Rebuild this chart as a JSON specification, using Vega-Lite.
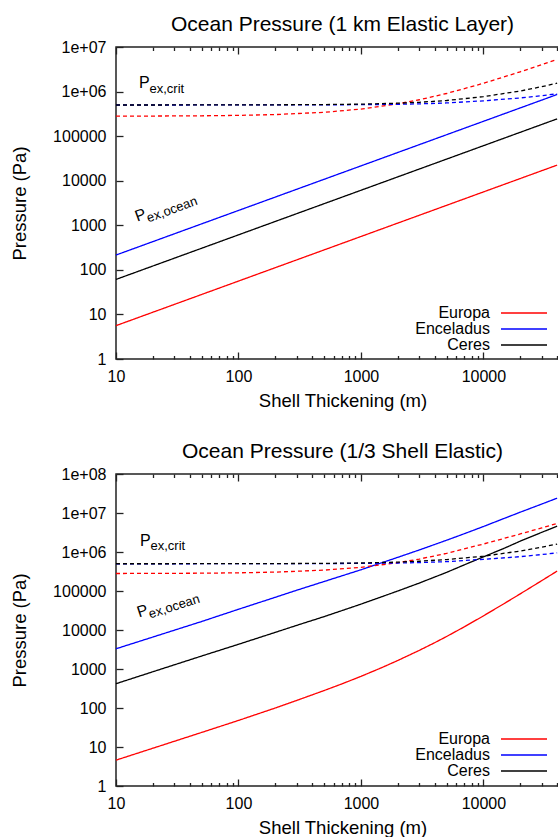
{
  "$schema": "https://vega.github.io/schema/vega-lite/v6.json",
  "padding": {"left": 9, "top": 13, "right": 0, "bottom": 0},
  "spacing": 29,
  "resolve": {"scale": {"color": "independent", "strokeDash": "independent"}},
  "config": {
    "font": "Liberation Sans",
    "view": {"stroke": "#222", "strokeWidth": 1.5},
    "axis": {"labelColor": "#000", "titleColor": "#000", "tickColor": "#222", "tickWidth": 1.3, "grid": false, "domain": false, "labelFontSize": 16, "titleFontSize": 18.5, "titleFontWeight": "normal", "labelFlush": false, "labelOverlap": false},
    "title": {"fontSize": 21, "fontWeight": "normal", "color": "#000", "offset": 4},
    "line": {"strokeWidth": 1.3}
  },
  "datasets": {
    "top": [
      {"planet":"Europa","kind":"ocean","x":10,"p":5.6},{"planet":"Europa","kind":"ocean","x":20,"p":11.2},{"planet":"Europa","kind":"ocean","x":50,"p":28},{"planet":"Europa","kind":"ocean","x":100,"p":56},{"planet":"Europa","kind":"ocean","x":200,"p":112},{"planet":"Europa","kind":"ocean","x":500,"p":280},{"planet":"Europa","kind":"ocean","x":1000,"p":560},{"planet":"Europa","kind":"ocean","x":2000,"p":1120},{"planet":"Europa","kind":"ocean","x":5000,"p":2800},{"planet":"Europa","kind":"ocean","x":10000,"p":5600},{"planet":"Europa","kind":"ocean","x":20000,"p":11200},{"planet":"Europa","kind":"ocean","x":40000,"p":22400},
      {"planet":"Enceladus","kind":"ocean","x":10,"p":215},{"planet":"Enceladus","kind":"ocean","x":20,"p":430},{"planet":"Enceladus","kind":"ocean","x":50,"p":1075},{"planet":"Enceladus","kind":"ocean","x":100,"p":2150},{"planet":"Enceladus","kind":"ocean","x":200,"p":4300},{"planet":"Enceladus","kind":"ocean","x":500,"p":10750},{"planet":"Enceladus","kind":"ocean","x":1000,"p":21500},{"planet":"Enceladus","kind":"ocean","x":2000,"p":43000},{"planet":"Enceladus","kind":"ocean","x":5000,"p":107500},{"planet":"Enceladus","kind":"ocean","x":10000,"p":215000},{"planet":"Enceladus","kind":"ocean","x":20000,"p":430000},{"planet":"Enceladus","kind":"ocean","x":40000,"p":860000},
      {"planet":"Ceres","kind":"ocean","x":10,"p":61},{"planet":"Ceres","kind":"ocean","x":20,"p":122},{"planet":"Ceres","kind":"ocean","x":50,"p":305},{"planet":"Ceres","kind":"ocean","x":100,"p":610},{"planet":"Ceres","kind":"ocean","x":200,"p":1220},{"planet":"Ceres","kind":"ocean","x":500,"p":3050},{"planet":"Ceres","kind":"ocean","x":1000,"p":6100},{"planet":"Ceres","kind":"ocean","x":2000,"p":12200},{"planet":"Ceres","kind":"ocean","x":5000,"p":30500},{"planet":"Ceres","kind":"ocean","x":10000,"p":61000},{"planet":"Ceres","kind":"ocean","x":20000,"p":122000},{"planet":"Ceres","kind":"ocean","x":40000,"p":244000},
      {"planet":"Europa","kind":"crit","x":10,"p":281000},{"planet":"Europa","kind":"crit","x":20,"p":282500},{"planet":"Europa","kind":"crit","x":50,"p":286000},{"planet":"Europa","kind":"crit","x":100,"p":292500},{"planet":"Europa","kind":"crit","x":200,"p":305000},{"planet":"Europa","kind":"crit","x":500,"p":342500},{"planet":"Europa","kind":"crit","x":1000,"p":405000},{"planet":"Europa","kind":"crit","x":2000,"p":530000},{"planet":"Europa","kind":"crit","x":3000,"p":655000},{"planet":"Europa","kind":"crit","x":5000,"p":905000},{"planet":"Europa","kind":"crit","x":10000,"p":1530000},{"planet":"Europa","kind":"crit","x":20000,"p":2780000},{"planet":"Europa","kind":"crit","x":30000,"p":4030000},{"planet":"Europa","kind":"crit","x":40000,"p":5280000},
      {"planet":"Enceladus","kind":"crit","x":10,"p":500000},{"planet":"Enceladus","kind":"crit","x":20,"p":500000},{"planet":"Enceladus","kind":"crit","x":50,"p":500500},{"planet":"Enceladus","kind":"crit","x":100,"p":501000},{"planet":"Enceladus","kind":"crit","x":200,"p":502000},{"planet":"Enceladus","kind":"crit","x":500,"p":504000},{"planet":"Enceladus","kind":"crit","x":1000,"p":508000},{"planet":"Enceladus","kind":"crit","x":2000,"p":518000},{"planet":"Enceladus","kind":"crit","x":3000,"p":530000},{"planet":"Enceladus","kind":"crit","x":5000,"p":555000},{"planet":"Enceladus","kind":"crit","x":10000,"p":620000},{"planet":"Enceladus","kind":"crit","x":20000,"p":720000},{"planet":"Enceladus","kind":"crit","x":30000,"p":810000},{"planet":"Enceladus","kind":"crit","x":40000,"p":890000},
      {"planet":"Ceres","kind":"crit","x":10,"p":500000},{"planet":"Ceres","kind":"crit","x":20,"p":500200},{"planet":"Ceres","kind":"crit","x":50,"p":500800},{"planet":"Ceres","kind":"crit","x":100,"p":502000},{"planet":"Ceres","kind":"crit","x":200,"p":504500},{"planet":"Ceres","kind":"crit","x":500,"p":511000},{"planet":"Ceres","kind":"crit","x":1000,"p":522000},{"planet":"Ceres","kind":"crit","x":2000,"p":548000},{"planet":"Ceres","kind":"crit","x":3000,"p":575000},{"planet":"Ceres","kind":"crit","x":5000,"p":630000},{"planet":"Ceres","kind":"crit","x":10000,"p":770000},{"planet":"Ceres","kind":"crit","x":20000,"p":1030000},{"planet":"Ceres","kind":"crit","x":30000,"p":1290000},{"planet":"Ceres","kind":"crit","x":40000,"p":1540000}
    ],
    "bottom": [
      {"planet":"Europa","kind":"ocean","x":10,"p":4.6},{"planet":"Europa","kind":"ocean","x":20,"p":9.3},{"planet":"Europa","kind":"ocean","x":50,"p":23.6},{"planet":"Europa","kind":"ocean","x":100,"p":48},{"planet":"Europa","kind":"ocean","x":200,"p":100},{"planet":"Europa","kind":"ocean","x":300,"p":157},{"planet":"Europa","kind":"ocean","x":500,"p":280},{"planet":"Europa","kind":"ocean","x":700,"p":416},{"planet":"Europa","kind":"ocean","x":1000,"p":647},{"planet":"Europa","kind":"ocean","x":1500,"p":1105},{"planet":"Europa","kind":"ocean","x":2000,"p":1653},{"planet":"Europa","kind":"ocean","x":3000,"p":3010},{"planet":"Europa","kind":"ocean","x":4000,"p":4720},{"planet":"Europa","kind":"ocean","x":5000,"p":6800},{"planet":"Europa","kind":"ocean","x":7000,"p":12100},{"planet":"Europa","kind":"ocean","x":10000,"p":23000},{"planet":"Europa","kind":"ocean","x":15000,"p":49000},{"planet":"Europa","kind":"ocean","x":20000,"p":84600},{"planet":"Europa","kind":"ocean","x":30000,"p":185000},{"planet":"Europa","kind":"ocean","x":40000,"p":324000},
      {"planet":"Enceladus","kind":"ocean","x":10,"p":3300},{"planet":"Enceladus","kind":"ocean","x":20,"p":6600},{"planet":"Enceladus","kind":"ocean","x":50,"p":16500},{"planet":"Enceladus","kind":"ocean","x":100,"p":34000},{"planet":"Enceladus","kind":"ocean","x":200,"p":69000},{"planet":"Enceladus","kind":"ocean","x":300,"p":105000},{"planet":"Enceladus","kind":"ocean","x":500,"p":175000},{"planet":"Enceladus","kind":"ocean","x":1000,"p":350000},{"planet":"Enceladus","kind":"ocean","x":2000,"p":730000},{"planet":"Enceladus","kind":"ocean","x":3000,"p":1130000},{"planet":"Enceladus","kind":"ocean","x":5000,"p":2000000},{"planet":"Enceladus","kind":"ocean","x":7000,"p":2950000},{"planet":"Enceladus","kind":"ocean","x":10000,"p":4500000},{"planet":"Enceladus","kind":"ocean","x":15000,"p":7400000},{"planet":"Enceladus","kind":"ocean","x":20000,"p":10500000},{"planet":"Enceladus","kind":"ocean","x":30000,"p":17000000},{"planet":"Enceladus","kind":"ocean","x":40000,"p":24000000},
      {"planet":"Ceres","kind":"ocean","x":10,"p":420},{"planet":"Ceres","kind":"ocean","x":20,"p":850},{"planet":"Ceres","kind":"ocean","x":50,"p":2150},{"planet":"Ceres","kind":"ocean","x":100,"p":4300},{"planet":"Ceres","kind":"ocean","x":200,"p":8700},{"planet":"Ceres","kind":"ocean","x":300,"p":13200},{"planet":"Ceres","kind":"ocean","x":500,"p":22000},{"planet":"Ceres","kind":"ocean","x":1000,"p":46000},{"planet":"Ceres","kind":"ocean","x":2000,"p":100000},{"planet":"Ceres","kind":"ocean","x":3000,"p":160000},{"planet":"Ceres","kind":"ocean","x":5000,"p":300000},{"planet":"Ceres","kind":"ocean","x":7000,"p":470000},{"planet":"Ceres","kind":"ocean","x":10000,"p":750000},{"planet":"Ceres","kind":"ocean","x":15000,"p":1270000},{"planet":"Ceres","kind":"ocean","x":20000,"p":1900000},{"planet":"Ceres","kind":"ocean","x":30000,"p":3200000},{"planet":"Ceres","kind":"ocean","x":40000,"p":4600000},
      {"planet":"Europa","kind":"crit","x":10,"p":281000},{"planet":"Europa","kind":"crit","x":20,"p":282500},{"planet":"Europa","kind":"crit","x":50,"p":286000},{"planet":"Europa","kind":"crit","x":100,"p":292500},{"planet":"Europa","kind":"crit","x":200,"p":305000},{"planet":"Europa","kind":"crit","x":500,"p":342500},{"planet":"Europa","kind":"crit","x":1000,"p":405000},{"planet":"Europa","kind":"crit","x":2000,"p":530000},{"planet":"Europa","kind":"crit","x":3000,"p":660000},{"planet":"Europa","kind":"crit","x":5000,"p":920000},{"planet":"Europa","kind":"crit","x":10000,"p":1600000},{"planet":"Europa","kind":"crit","x":20000,"p":2900000},{"planet":"Europa","kind":"crit","x":30000,"p":4150000},{"planet":"Europa","kind":"crit","x":40000,"p":5400000},
      {"planet":"Enceladus","kind":"crit","x":10,"p":500000},{"planet":"Enceladus","kind":"crit","x":20,"p":500000},{"planet":"Enceladus","kind":"crit","x":50,"p":500500},{"planet":"Enceladus","kind":"crit","x":100,"p":501000},{"planet":"Enceladus","kind":"crit","x":200,"p":502000},{"planet":"Enceladus","kind":"crit","x":500,"p":505000},{"planet":"Enceladus","kind":"crit","x":1000,"p":510000},{"planet":"Enceladus","kind":"crit","x":2000,"p":522000},{"planet":"Enceladus","kind":"crit","x":3000,"p":535000},{"planet":"Enceladus","kind":"crit","x":5000,"p":565000},{"planet":"Enceladus","kind":"crit","x":10000,"p":650000},{"planet":"Enceladus","kind":"crit","x":20000,"p":760000},{"planet":"Enceladus","kind":"crit","x":30000,"p":860000},{"planet":"Enceladus","kind":"crit","x":40000,"p":950000},
      {"planet":"Ceres","kind":"crit","x":10,"p":500000},{"planet":"Ceres","kind":"crit","x":20,"p":500200},{"planet":"Ceres","kind":"crit","x":50,"p":500800},{"planet":"Ceres","kind":"crit","x":100,"p":502000},{"planet":"Ceres","kind":"crit","x":200,"p":504500},{"planet":"Ceres","kind":"crit","x":500,"p":511000},{"planet":"Ceres","kind":"crit","x":1000,"p":523000},{"planet":"Ceres","kind":"crit","x":2000,"p":550000},{"planet":"Ceres","kind":"crit","x":3000,"p":580000},{"planet":"Ceres","kind":"crit","x":5000,"p":640000},{"planet":"Ceres","kind":"crit","x":10000,"p":780000},{"planet":"Ceres","kind":"crit","x":20000,"p":1060000},{"planet":"Ceres","kind":"crit","x":30000,"p":1330000},{"planet":"Ceres","kind":"crit","x":40000,"p":1600000}
    ]
  },
  "vconcat": [
    {
      "title": "Ocean Pressure (1 km Elastic Layer)",
      "width": 453,
      "height": 312,
      "resolve": {"axis": {"x": "independent", "y": "independent"}},
      "layer": [
        {
          "data": {"name": "top"},
          "mark": {"type": "line", "strokeWidth": 1.3},
          "encoding": {
            "x": {"field": "x", "type": "quantitative", "scale": {"type": "log", "domain": [10, 50000], "nice": false},
              "axis": {"orient": "bottom", "values": [10,20,30,40,50,60,70,80,90,100,200,300,400,500,600,700,800,900,1000,2000,3000,4000,5000,6000,7000,8000,9000,10000,20000,30000,40000],
                "labelExpr": "(datum.value == 10 || datum.value == 100 || datum.value == 1000 || datum.value == 10000) ? format(datum.value, 'd') : ''",
                "tickSize": {"condition": {"test": "datum.value == 10 || datum.value == 100 || datum.value == 1000 || datum.value == 10000", "value": -7}, "value": -3.5},
                "labelPadding": 16, "title": "Shell Thickening (m)", "titlePadding": 3.5}},
            "y": {"field": "p", "type": "quantitative", "scale": {"type": "log", "domain": [1, 10000000], "nice": false},
              "axis": {"orient": "left", "values": [1,10,100,1000,10000,100000,1000000,10000000],
                "labelExpr": "datum.value >= 1000000 ? '1e+0' + round(log(datum.value)/LN10) : format(datum.value, 'd')",
                "tickSize": -7, "labelPadding": 17, "title": "Pressure (Pa)", "titlePadding": 23}},
            "color": {"field": "planet", "type": "nominal", "scale": {"domain": ["Europa", "Enceladus", "Ceres"], "range": ["#ff0000", "#0000ff", "#000000"]},
              "legend": {"title": null, "orient": "none", "legendX": 400, "legendY": 258, "symbolType": "M-3.286,0H3.286", "symbolSize": 196, "symbolStrokeWidth": 1.3, "labelAlign": "right", "labelOffset": -42, "labelFontSize": 16, "labelColor": "#000", "rowPadding": -0.5, "padding": 0, "labelLimit": 300}},
            "strokeDash": {"field": "kind", "type": "nominal", "scale": {"domain": ["ocean", "crit"], "range": [[1, 0], [4, 3]]}, "legend": null}
          }
        },
        {
          "data": {"values": [{}]},
          "mark": {"type": "text", "text": "P", "fontSize": 16, "align": "left", "baseline": "alphabetic", "color": "#000"},
          "encoding": {
            "x": {"datum": 15.4, "type": "quantitative", "scale": {"type": "log", "domain": [10, 50000], "nice": false},
              "axis": {"orient": "top", "values": [10,20,30,40,50,60,70,80,90,100,200,300,400,500,600,700,800,900,1000,2000,3000,4000,5000,6000,7000,8000,9000,10000,20000,30000,40000],
                "labels": false, "title": null,
                "tickSize": {"condition": {"test": "datum.value == 10 || datum.value == 100 || datum.value == 1000 || datum.value == 10000", "value": -7}, "value": -3.5}}},
            "y": {"datum": 1200000, "type": "quantitative", "scale": {"type": "log", "domain": [1, 10000000], "nice": false}, "axis": null}
          }
        },
        {
          "data": {"values": [{}]},
          "mark": {"type": "text", "text": "ex,crit", "fontSize": 13, "align": "left", "baseline": "alphabetic", "dx": 10.5, "dy": 4.5, "color": "#000"},
          "encoding": {
            "x": {"datum": 15.4, "type": "quantitative", "scale": {"type": "log", "domain": [10, 50000], "nice": false}, "axis": null},
            "y": {"datum": 1200000, "type": "quantitative", "scale": {"type": "log", "domain": [1, 10000000], "nice": false}, "axis": null}
          }
        },
        {
          "data": {"values": [{}]},
          "mark": {"type": "text", "text": "P", "fontSize": 16, "align": "left", "baseline": "alphabetic", "angle": -20, "color": "#000"},
          "encoding": {
            "x": {"datum": 14.9, "type": "quantitative", "scale": {"type": "log", "domain": [10, 50000], "nice": false}, "axis": null},
            "y": {"datum": 1200, "type": "quantitative", "scale": {"type": "log", "domain": [1, 10000000], "nice": false}, "axis": null}
          }
        },
        {
          "data": {"values": [{}]},
          "mark": {"type": "text", "text": "ex,ocean", "fontSize": 13, "align": "left", "baseline": "alphabetic", "angle": -20, "dx": 10.5, "dy": 4.5, "color": "#000"},
          "encoding": {
            "x": {"datum": 14.9, "type": "quantitative", "scale": {"type": "log", "domain": [10, 50000], "nice": false}, "axis": null},
            "y": {"datum": 1200, "type": "quantitative", "scale": {"type": "log", "domain": [1, 10000000], "nice": false}, "axis": null}
          }
        }
      ]
    },
    {
      "title": "Ocean Pressure (1/3 Shell Elastic)",
      "width": 453,
      "height": 312,
      "resolve": {"axis": {"x": "independent", "y": "independent"}},
      "layer": [
        {
          "data": {"name": "bottom"},
          "mark": {"type": "line", "strokeWidth": 1.3},
          "encoding": {
            "x": {"field": "x", "type": "quantitative", "scale": {"type": "log", "domain": [10, 50000], "nice": false},
              "axis": {"orient": "bottom", "values": [10,20,30,40,50,60,70,80,90,100,200,300,400,500,600,700,800,900,1000,2000,3000,4000,5000,6000,7000,8000,9000,10000,20000,30000,40000],
                "labelExpr": "(datum.value == 10 || datum.value == 100 || datum.value == 1000 || datum.value == 10000) ? format(datum.value, 'd') : ''",
                "tickSize": {"condition": {"test": "datum.value == 10 || datum.value == 100 || datum.value == 1000 || datum.value == 10000", "value": -7}, "value": -3.5},
                "labelPadding": 16, "title": "Shell Thickening (m)", "titlePadding": 3.5}},
            "y": {"field": "p", "type": "quantitative", "scale": {"type": "log", "domain": [1, 100000000], "nice": false},
              "axis": {"orient": "left", "values": [1,10,100,1000,10000,100000,1000000,10000000,100000000],
                "labelExpr": "datum.value >= 1000000 ? '1e+0' + round(log(datum.value)/LN10) : format(datum.value, 'd')",
                "tickSize": -7, "labelPadding": 17, "title": "Pressure (Pa)", "titlePadding": 23}},
            "color": {"field": "planet", "type": "nominal", "scale": {"domain": ["Europa", "Enceladus", "Ceres"], "range": ["#ff0000", "#0000ff", "#000000"]},
              "legend": {"title": null, "orient": "none", "legendX": 400, "legendY": 257, "symbolType": "M-3.286,0H3.286", "symbolSize": 196, "symbolStrokeWidth": 1.3, "labelAlign": "right", "labelOffset": -42, "labelFontSize": 16, "labelColor": "#000", "rowPadding": 0, "padding": 0, "labelLimit": 300}},
            "strokeDash": {"field": "kind", "type": "nominal", "scale": {"domain": ["ocean", "crit"], "range": [[1, 0], [4, 3]]}, "legend": null}
          }
        },
        {
          "data": {"values": [{}]},
          "mark": {"type": "text", "text": "P", "fontSize": 16, "align": "left", "baseline": "alphabetic", "color": "#000"},
          "encoding": {
            "x": {"datum": 15.7, "type": "quantitative", "scale": {"type": "log", "domain": [10, 50000], "nice": false},
              "axis": {"orient": "top", "values": [10,20,30,40,50,60,70,80,90,100,200,300,400,500,600,700,800,900,1000,2000,3000,4000,5000,6000,7000,8000,9000,10000,20000,30000,40000],
                "labels": false, "title": null,
                "tickSize": {"condition": {"test": "datum.value == 10 || datum.value == 100 || datum.value == 1000 || datum.value == 10000", "value": -7}, "value": -3.5}}},
            "y": {"datum": 1450000, "type": "quantitative", "scale": {"type": "log", "domain": [1, 100000000], "nice": false}, "axis": null}
          }
        },
        {
          "data": {"values": [{}]},
          "mark": {"type": "text", "text": "ex,crit", "fontSize": 13, "align": "left", "baseline": "alphabetic", "dx": 10.5, "dy": 4.5, "color": "#000"},
          "encoding": {
            "x": {"datum": 15.7, "type": "quantitative", "scale": {"type": "log", "domain": [10, 50000], "nice": false}, "axis": null},
            "y": {"datum": 1450000, "type": "quantitative", "scale": {"type": "log", "domain": [1, 100000000], "nice": false}, "axis": null}
          }
        },
        {
          "data": {"values": [{}]},
          "mark": {"type": "text", "text": "P", "fontSize": 16, "align": "left", "baseline": "alphabetic", "angle": -18, "color": "#000"},
          "encoding": {
            "x": {"datum": 15.4, "type": "quantitative", "scale": {"type": "log", "domain": [10, 50000], "nice": false}, "axis": null},
            "y": {"datum": 21000, "type": "quantitative", "scale": {"type": "log", "domain": [1, 100000000], "nice": false}, "axis": null}
          }
        },
        {
          "data": {"values": [{}]},
          "mark": {"type": "text", "text": "ex,ocean", "fontSize": 13, "align": "left", "baseline": "alphabetic", "angle": -18, "dx": 10.5, "dy": 4.5, "color": "#000"},
          "encoding": {
            "x": {"datum": 15.4, "type": "quantitative", "scale": {"type": "log", "domain": [10, 50000], "nice": false}, "axis": null},
            "y": {"datum": 21000, "type": "quantitative", "scale": {"type": "log", "domain": [1, 100000000], "nice": false}, "axis": null}
          }
        }
      ]
    }
  ]
}
